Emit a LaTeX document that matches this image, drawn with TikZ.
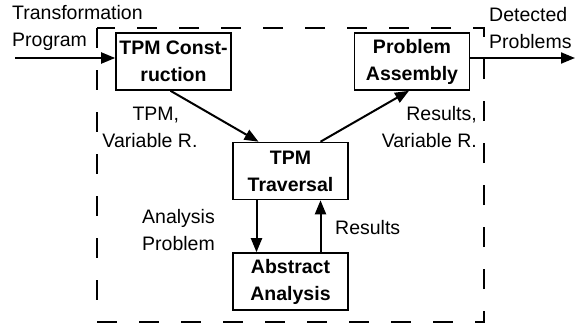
\documentclass[tikz,border=0pt]{standalone}
\usepackage{fontspec}
\setmainfont{Liberation Sans}
\usetikzlibrary{arrows.meta}

\begin{document}
\begin{tikzpicture}[x=1pt,y=-1pt,
    stage/.style={draw,line width=1.6pt,minimum width=115pt,minimum height=57pt,
      align=center,inner sep=0pt,font=\fontsize{19.5}{27}\selectfont\bfseries},
    flow/.style={-{Triangle[length=14pt,width=11pt]},line width=2pt},
    lbl/.style={inner sep=0pt,font=\fontsize{19.5}{27}\selectfont}]
    \useasboundingbox (0,0) rectangle (577,329);
    % dashed frame of the tool
    \draw[line width=1.6pt,dash pattern=on 20pt off 22pt] (97,28) rectangle (484,322);
    % stages
    \node[stage] (cons) at (173.5,61.5) {TPM Const-\\ruction};
    \node[stage] (asm) at (412,61.5) {Problem\\Assembly};
    \node[stage] (trav) at (290.5,171) {TPM\\Traversal};
    \node[stage] (abs) at (290.5,281.5) {Abstract\\Analysis};
    \coordinate (in) at (15,58);
    \coordinate (out) at (575,58);
    % connectors
    \draw[flow] (in) -- (in -| cons.west);
    \draw[flow] (asm.east |- out) -- (out);
    \draw[flow] ([xshift=-3pt]cons.south) -- ([xshift=-32pt]trav.north);
    \draw[flow] ([xshift=30pt]trav.north) -- ([xshift=-3pt]asm.south);
    \draw[flow] ([xshift=-34pt]trav.south) -- ([xshift=-34pt]abs.north);
    \draw[flow] ([xshift=30pt]abs.north) -- ([xshift=30pt]trav.south);
    % labels
    \node[lbl,anchor=north west,align=left] (lin) at (12,5) {Transformation\\Program};
    \node[lbl,anchor=north west,align=left] (lout) at (489,7) {Detected\\Problems};
    \node[lbl,anchor=north,align=center] (lcons) at (150,107) {\hspace*{0.6em}TPM,\\Variable R.};
    \node[lbl,anchor=north east,align=right] (lasm) at (477,106) {Results,\\Variable R.};
    \node[lbl,anchor=north west,align=left] (lprob) at (142,209) {Analysis\\Problem};
    \node[lbl,anchor=west] (lres) at (335,228) {Results};
\end{tikzpicture}
\end{document}
